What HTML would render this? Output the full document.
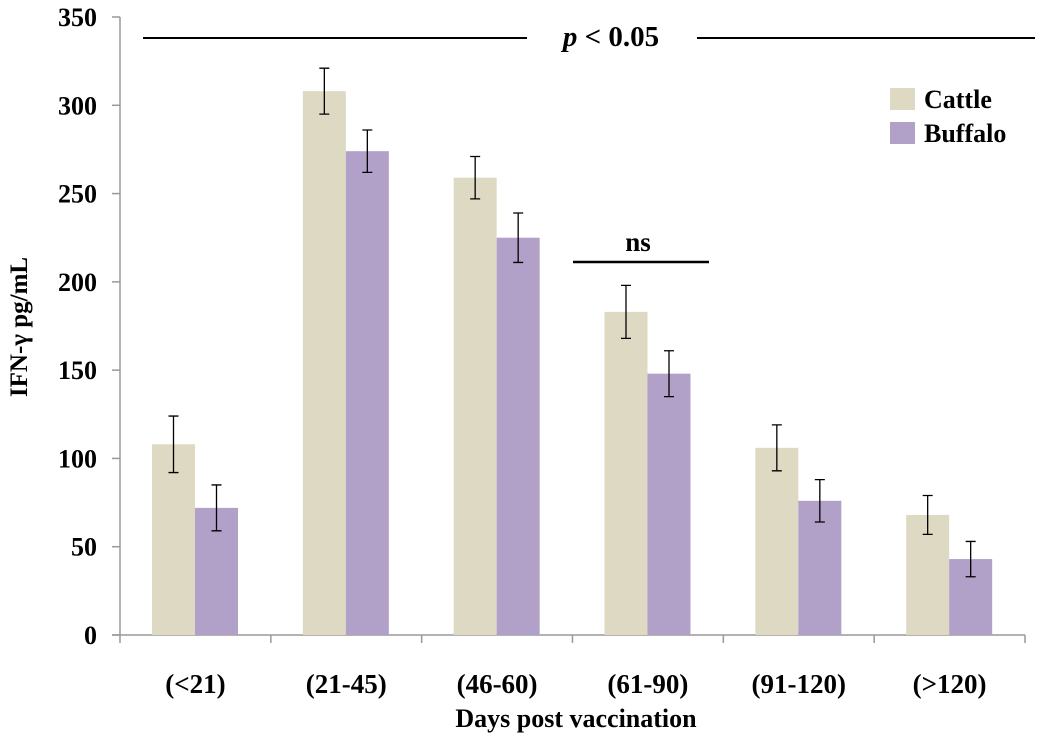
<!DOCTYPE html>
<html><head><meta charset="utf-8"><style>
body{margin:0;background:#fff}
svg text{font-family:"Liberation Serif",serif;font-weight:bold;fill:#000}
</style></head><body>
<svg id="c" width="1063" height="739"></svg>
<script>
const categories=["(<21)","(21-45)","(46-60)","(61-90)","(91-120)","(>120)"];
const cattle=[108,308,259,183,106,68];
const cattleErr=[16,13,12,15,13,11];
const buffalo=[72,274,225,148,76,43];
const buffaloErr=[13,12,14,13,12,10];
const yTicks=[0,50,100,150,200,250,300,350];
const NS="http://www.w3.org/2000/svg";
const svg=document.getElementById('c');
const x0=120,x1=1025,y0=635,yTop=17,yMax=350;
const gw=(x1-x0)/categories.length;
const Y=v=>y0-(v/yMax)*(y0-yTop);
function mk(t,a,p){const e=document.createElementNS(NS,t);for(const k in a)e.setAttribute(k,a[k]);(p||svg).appendChild(e);return e;}
let ya=mk('line',{x1:x0,y1:yTop,x2:x0,y2:y0,stroke:'#999','stroke-width':1.5});


yTicks.forEach(v=>{
 const t=mk('text',{x:97,y:Y(v)+9,'text-anchor':'end','font-size':26});t.textContent=v;
 
 
 mk('line',{x1:x0-8,y1:Y(v),x2:x0,y2:Y(v),stroke:'#999','stroke-width':1.5});
});
let xa=mk('line',{x1:x0-8,y1:y0,x2:x1,y2:y0,stroke:'#999','stroke-width':1.5});


for(let i=0;i<=categories.length;i++){const x=x0+i*gw;mk('line',{x1:x,y1:y0,x2:x,y2:y0+8,stroke:'#999','stroke-width':1.5});}
const bw=43,off=32;
function bar(v,e,x,col,name){
 const r=mk('rect',{x:x,y:Y(v),width:bw,height:y0-Y(v),fill:col});
 
 
 const cx=x+bw/2;
 const eb=mk('path',{d:`M${cx},${Y(v+e)}V${Y(v-e)}M${cx-5},${Y(v+e)}H${cx+5}M${cx-5},${Y(v-e)}H${cx+5}`,stroke:'#000','stroke-width':1.3,fill:'none'});
 
 
}
categories.forEach((c,i)=>{
 const gx=x0+i*gw;
 bar(cattle[i],cattleErr[i],gx+off,'#ddd9c3','bar-cattle');
 bar(buffalo[i],buffaloErr[i],gx+off+bw,'#b1a0c7','bar-buffalo');
 const t=mk('text',{x:gx+gw/2,y:693,'text-anchor':'middle','font-size':27});t.textContent=c;
 
 
});
</script>
<svg width="1063" height="739" style="position:absolute;left:0;top:0">
<text x="576" y="727" text-anchor="middle" font-size="26">Days post vaccination</text>
<text transform="translate(27,327) rotate(-90)" text-anchor="middle" font-size="25">IFN-γ pg/mL</text>
<line x1="143" y1="38" x2="527" y2="38" stroke="#000" stroke-width="2"/>
<line x1="697" y1="38" x2="1035" y2="38" stroke="#000" stroke-width="2"/>
<text x="611" y="46" text-anchor="middle" font-size="29"><tspan font-style="italic">p</tspan> &lt; 0.05</text>
<line x1="573" y1="262" x2="709" y2="262" stroke="#000" stroke-width="2.5"/>
<text x="638" y="251" text-anchor="middle" font-size="27">ns</text>
<g>
<rect x="890" y="88" width="25" height="22" fill="#ddd9c3"/>
<text x="924" y="108" font-size="26">Cattle</text>
<rect x="890" y="122" width="25" height="22" fill="#b1a0c7"/>
<text x="924" y="142" font-size="26">Buffalo</text>
</g>
</svg>
</body></html>
